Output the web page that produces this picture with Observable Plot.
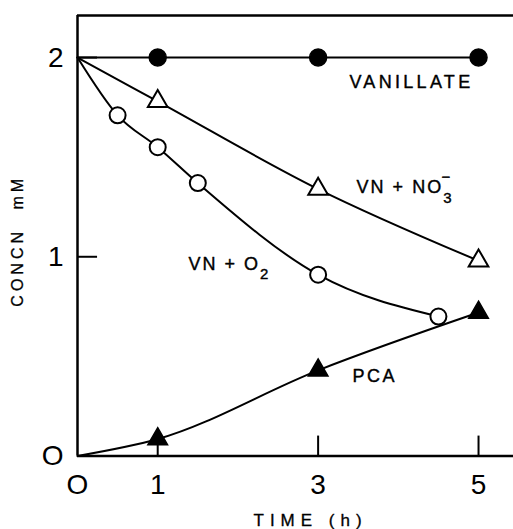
<!DOCTYPE html>
<html><head><meta charset="utf-8">
<script src="https://cdn.jsdelivr.net/npm/d3@7"></script>
<script src="https://cdn.jsdelivr.net/npm/@observablehq/plot@0.6"></script>
<style>
body{margin:0;background:#fff}
</style></head><body><div id="chart"></div>
<script>
// ---- data ----
const timeH = [0, 1, 3, 5];
const vanillate = [2, 2, 2, 2];
const vnNO3 = [2, 1.78, 1.34, 0.98];
const pca = [0, 0.085, 0.43, 0.72];
const o2Time = [0, 0.5, 1, 1.5, 3, 4.5];
const vnO2 = [2, 1.71, 1.55, 1.37, 0.91, 0.70];
const xTicks = [0, 1, 3, 5];
const xTickLabels = ["O", "1", "3", "5"];
const yTicks = [0, 1, 2];
const yTickLabels = ["O", "1", "2"];
const seriesNames = ["VANILLATE", "VN + NO3-", "VN + O2", "PCA"];
const labelX = [3.39, 3.48, 1.384, 3.43];
const labelY = [1.875, 1.347, 0.961, 0.399];
const xTitle = "TIME (h)";
const yTitle = "CONCN mM";

// ---- tables ----
const rows = (xs, ys) => xs.map((x, i) => ({x, y: ys[i]}));
const vanRows = rows(timeH, vanillate);
const no3Rows = rows(timeH, vnNO3);
const pcaRows = rows(timeH, pca);
const o2Rows = rows(o2Time, vnO2);
const labels = seriesNames.map((t, i) => ({t, x: labelX[i], y: labelY[i]}));

const xMax = 5.436, yMax = 2.211;
const font = "'Liberation Sans', Arial, Helvetica, sans-serif";

const plot = Plot.plot({
  width: 513, height: 529,
  marginLeft: 77, marginRight: 0, marginTop: 15, marginBottom: 73.5,
  x: {domain: [0, xMax]},
  y: {domain: [0, yMax]},
  style: {fontFamily: font, color: "#000", background: "#fff", overflow: "visible"},
  marks: [
    Plot.ruleX([0], {stroke: "#000", strokeWidth: 2.5}),
    Plot.ruleY([0], {stroke: "#000", strokeWidth: 2.5}),
    Plot.ruleY([yMax], {stroke: "#000", strokeWidth: 2.5}),
    Plot.ruleX(xTicks.filter(d => d > 0), {y1: 0, y2: 0.1, stroke: "#000", strokeWidth: 2}),
    Plot.ruleY(yTicks.filter(d => d > 0), {x1: 0, x2: 0.25, stroke: "#000", strokeWidth: 2}),
    Plot.axisX({ticks: xTicks, tickFormat: d => xTickLabels[xTicks.indexOf(d)], tickSize: 0, tickPadding: 18, fontSize: 28, label: null}),
    Plot.axisY({ticks: yTicks, tickFormat: d => yTickLabels[yTicks.indexOf(d)], tickSize: 0, tickPadding: 14, fontSize: 28, label: null}),
    Plot.line(vanRows, {x: "x", y: "y", stroke: "#000", strokeWidth: 2}),
    Plot.line(no3Rows, {x: "x", y: "y", stroke: "#000", strokeWidth: 2, curve: "monotone-x"}),
    Plot.line(pcaRows, {x: "x", y: "y", stroke: "#000", strokeWidth: 2, curve: "monotone-x"}),
    Plot.line(o2Rows, {x: "x", y: "y", stroke: "#000", strokeWidth: 2, curve: "monotone-x"}),
    Plot.dot(vanRows.slice(1), {x: "x", y: "y", r: 8.5, fill: "#000", stroke: "#000"}),
    Plot.dot(no3Rows.slice(1), {x: "x", y: "y", r: 7.3, symbol: "triangle", fill: "#fff", stroke: "#000", strokeWidth: 2}),
    Plot.dot(pcaRows.slice(1), {x: "x", y: "y", r: 7.3, symbol: "triangle", fill: "#000", stroke: "#000", strokeWidth: 1.5}),
    Plot.dot(o2Rows.slice(1), {x: "x", y: "y", r: 8, fill: "#fff", stroke: "#000", strokeWidth: 2}),
    Plot.text(labels, {x: "x", y: "y", text: "t", textAnchor: "start", fontSize: 18, fill: "#000", stroke: "#000", strokeWidth: 0.4}),
    Plot.text([xTitle], {frameAnchor: "bottom-left", text: d => d, textAnchor: "start", dx: 176, dy: 70, fontSize: 17, fill: "#000", stroke: "#000", strokeWidth: 0.3}),
    Plot.text([yTitle], {frameAnchor: "left", text: d => d, textAnchor: "middle", rotate: -90, dx: -60, dy: 5, fontSize: 16, fill: "#000", stroke: "#000", strokeWidth: 0.3})
  ]
});

const spacing = {"VANILLATE": 3.3, "VN + NO3-": 2, "VN + O2": 2, "PCA": 2.5, "TIME (h)": 6, "CONCN mM": 4};
d3.select(plot).selectAll("text").each(function () {
  const t = this.textContent;
  if (t in spacing) this.setAttribute("letter-spacing", spacing[t]);
  if (t === "CONCN mM") this.setAttribute("word-spacing", 10);
  const s = d3.select(this);
  if (t === "VN + NO3-") {
    s.text("VN + NO");
    s.append("tspan").attr("font-size", 15).attr("dy", 10).text("3");
    s.append("tspan").attr("font-size", 15).attr("dx", -12).attr("dy", -21).text("\u2212");
  } else if (t === "VN + O2") {
    s.text("VN + O");
    s.append("tspan").attr("font-size", 15).attr("dy", 9).text("2");
  }
});
document.getElementById("chart").appendChild(plot);
</script></body></html>
